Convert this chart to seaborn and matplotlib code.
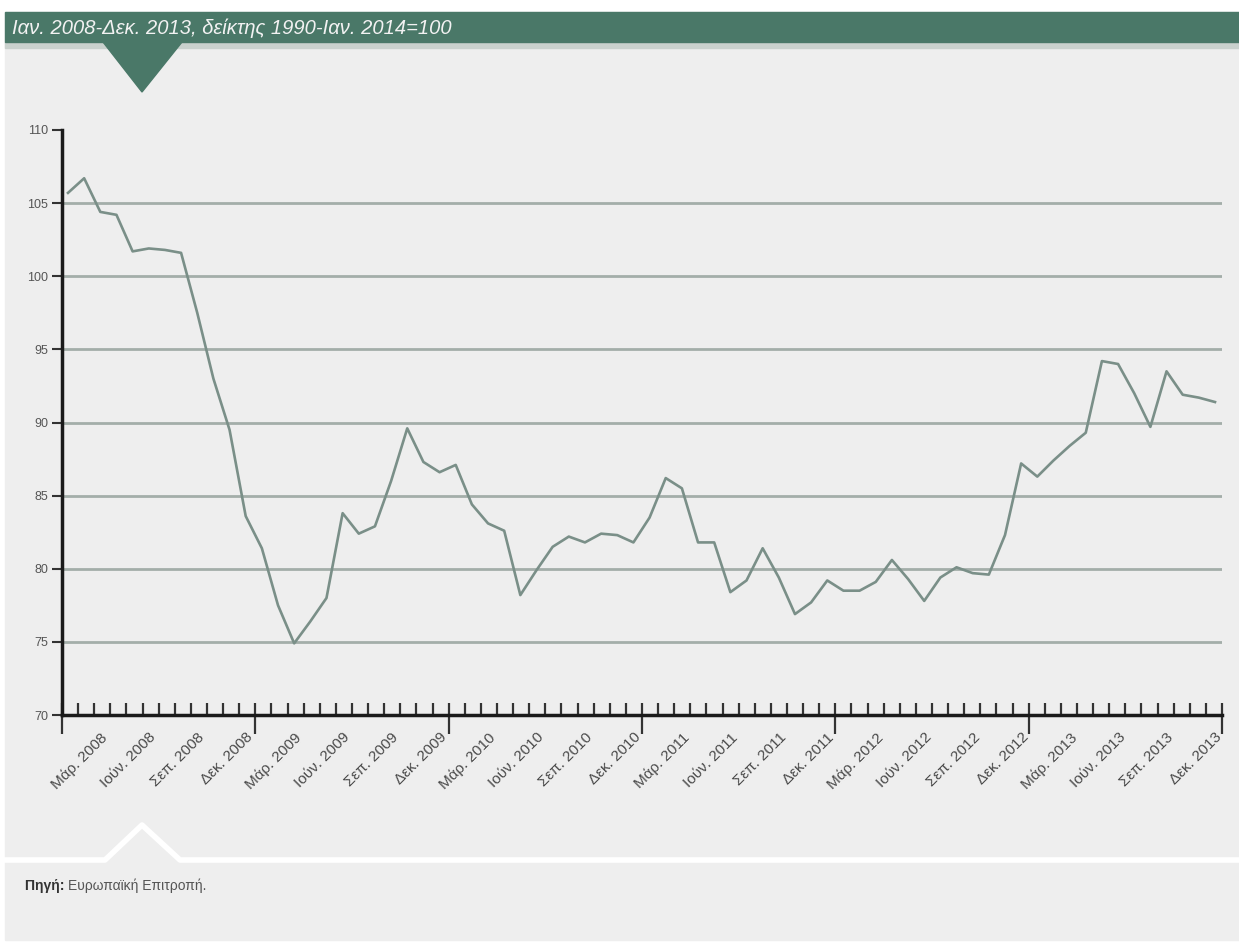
import numpy as np
import matplotlib
matplotlib.use('Agg')
import matplotlib.pyplot as plt
import seaborn as sns
from matplotlib.patches import Rectangle, Polygon
from matplotlib.lines import Line2D

# μηνιαίες τιμές, Ιαν. 2008 - Δεκ. 2013
values = [105.7, 106.7, 104.4, 104.2, 101.7, 101.9, 101.8, 101.6, 97.5, 93.0, 89.5, 83.6,
          81.4, 77.5, 74.9, 76.4, 78.0, 83.8, 82.4, 82.9, 86.0, 89.6, 87.3, 86.6,
          87.1, 84.4, 83.1, 82.6, 78.2, 79.9, 81.5, 82.2, 81.8, 82.4, 82.3, 81.8,
          83.5, 86.2, 85.5, 81.8, 81.8, 78.4, 79.2, 81.4, 79.4, 76.9, 77.7, 79.2,
          78.5, 78.5, 79.1, 80.6, 79.3, 77.8, 79.4, 80.1, 79.7, 79.6, 82.3, 87.2,
          86.3, 87.4, 88.4, 89.3, 94.2, 94.0, 92.0, 89.7, 93.5, 91.9, 91.7, 91.4]
months = np.arange(len(values))

tick_labels = []
for year in range(2008, 2014):
    for m in ['Μάρ.', 'Ιούν.', 'Σεπ.', 'Δεκ.']:
        tick_labels.append(f'{m} {year}')
label_pos = np.arange(2, 72, 3)

yticks = [70, 75, 80, 85, 90, 95, 100, 105, 110]

title = 'Ιαν. 2008-Δεκ. 2013, δείκτης 1990-Ιαν. 2014=100'
source_bold = 'Πηγή:'
source_text = 'Ευρωπαϊκή Επιτροπή.'

W, H = 1239, 949
plt.rcParams['font.family'] = ['Liberation Sans', 'DejaVu Sans']

fig = plt.figure(figsize=(W / 100, H / 100), dpi=100, facecolor='white')


def fx(x):
    return x / W


def fy(y):
    return 1 - y / H


bg = '#eeeeee'
green = '#4a7868'
fig.patches.append(Rectangle((fx(5), fy(940)), fx(W - 5), fy(12) - fy(940),
                             transform=fig.transFigure, color=bg, zorder=-3))
fig.patches.append(Rectangle((fx(5), fy(48)), fx(W - 5), fy(42) - fy(48),
                             transform=fig.transFigure, color='#c9d1cd', zorder=-2))
fig.patches.append(Rectangle((fx(5), fy(42)), fx(W - 5), fy(12) - fy(42),
                             transform=fig.transFigure, color=green, zorder=-2))
fig.patches.append(Polygon([(fx(103), fy(42)), (fx(182), fy(42)), (fx(142), fy(92))],
                           closed=True, transform=fig.transFigure, color=green, zorder=-1))
fig.lines.append(Line2D([fx(5), fx(105), fx(142), fx(180), fx(W)],
                        [fy(860), fy(860), fy(825), fy(860), fy(860)],
                        transform=fig.transFigure, color='white', lw=4, zorder=-1))

fig.text(fx(12), fy(28), title, color='#f2f2f2', fontsize=14.5, style='italic',
         va='center', ha='left')
t = fig.text(fx(25), fy(886), source_bold + ' ', color='#333333', fontsize=10,
             fontweight='bold', va='center', ha='left')
fig.canvas.draw()
bb = t.get_window_extent()
fig.text(bb.x1 / W, fy(886), source_text, color='#555555', fontsize=10,
         va='center', ha='left')

ax = fig.add_axes([fx(62), fy(715), fx(1222) - fx(62), fy(130) - fy(715)])
ax.set_zorder(5)
ax.patch.set_alpha(0)

for v in yticks[1:-1]:
    ax.axhline(v, color='#a3aea9', lw=2, zorder=1)

sns.lineplot(x=months, y=values, ax=ax, color='#7a8f88', linewidth=1.9, zorder=3)

x0 = -6 / 16.155
x1 = 71 + 7 / 16.155
ax.set_xlim(x0, x1)
ax.set_ylim(70, 110)

for side in ['top', 'right']:
    ax.spines[side].set_visible(False)
for side in ['left', 'bottom']:
    ax.spines[side].set_color('#1a1a1a')
    ax.spines[side].set_linewidth(2.5)

ax.set_yticks(yticks)
ax.set_yticklabels([str(v) for v in yticks])
ax.tick_params(axis='y', direction='out', length=7, width=1.5, color='#333333',
               labelsize=9, labelcolor='#555555', pad=3)

ax.set_xticks(label_pos)
ax.set_xticklabels(tick_labels, rotation=45, ha='right', va='top',
                   rotation_mode='anchor', fontsize=11, color='#4a4a4a')
ax.tick_params(axis='x', which='major', length=0, pad=11)
ax.set_xticks(np.linspace(x0, x1, 73), minor=True)
ax.tick_params(axis='x', which='minor', direction='in', length=9, width=1.6,
               color='#333333')

sec = ax.secondary_xaxis('bottom')
sec.set_xticks(np.linspace(x0, x1, 7))
sec.set_xticklabels([])
sec.spines['bottom'].set_visible(False)
sec.tick_params(axis='x', direction='out', length=14, width=1.6, color='#333333')

ax.set_xlabel('')
ax.set_ylabel('')

plt.savefig('out.png', dpi=100, facecolor=fig.get_facecolor())
